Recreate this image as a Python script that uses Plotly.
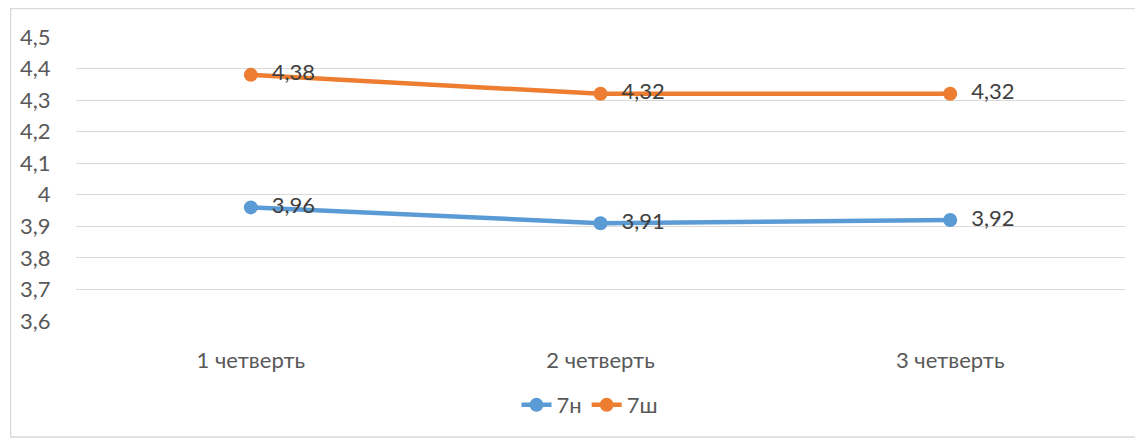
import plotly.graph_objects as go

# quarter averages for two classes
quarters = ["1 четверть", "2 четверть", "3 четверть"]
class_7n = [3.96, 3.91, 3.92]
class_7sh = [4.38, 4.32, 4.32]

FONT = "Lato, 'Open Sans', sans-serif"
TEXT_COLOR = "#595959"


def fmt(values):
    # comma decimals, small lead gap like the office labels
    return ["  " + str(v).replace(".", ",") for v in values]


fig = go.Figure()
for name, values, color in [("7н", class_7n, "#5B9BD5"), ("7ш", class_7sh, "#ED7D31")]:
    fig.add_trace(go.Scatter(
        x=quarters,
        y=values,
        name=name,
        mode="lines+markers+text",
        line=dict(color=color, width=4.5),
        marker=dict(color=color, size=14),
        text=fmt(values),
        textposition="middle right",
        textfont=dict(family=FONT, size=22, color="#404040"),
    ))

# page body adds an 8px offset, so the figure is 8px smaller
fig.update_layout(
    width=1135,
    height=433,
    margin=dict(l=66, r=18, t=29, b=120),
    paper_bgcolor="white",
    plot_bgcolor="white",
    separators=", ",
    font=dict(family=FONT, size=22, color=TEXT_COLOR),
    showlegend=True,
    legend=dict(
        orientation="h",
        x=0.49, xanchor="center",
        y=-0.296, yanchor="middle",
        font=dict(family=FONT, size=22, color=TEXT_COLOR),
    ),
    xaxis=dict(
        range=[-0.5, 2.5],
        showgrid=False,
        showline=False,
        zeroline=False,
        ticks="outside",
        ticklen=20,
        tickcolor="rgba(0,0,0,0)",
    ),
    yaxis=dict(
        range=[3.6, 4.5],
        dtick=0.1,
        showgrid=True,
        gridcolor="#D9D9D9",
        gridwidth=1.3,
        zeroline=False,
        showline=False,
        ticks="outside",
        ticklen=20,
        tickcolor="rgba(0,0,0,0)",
    ),
    shapes=[dict(
        type="rect", xref="paper", yref="paper",
        x0=-0.0623, x1=1.0105, y0=-0.4085, y1=1.1,
        line=dict(color="#D9D9D9", width=1.3),
        fillcolor="rgba(0,0,0,0)",
    )],
)

fig.write_html("out.html")
